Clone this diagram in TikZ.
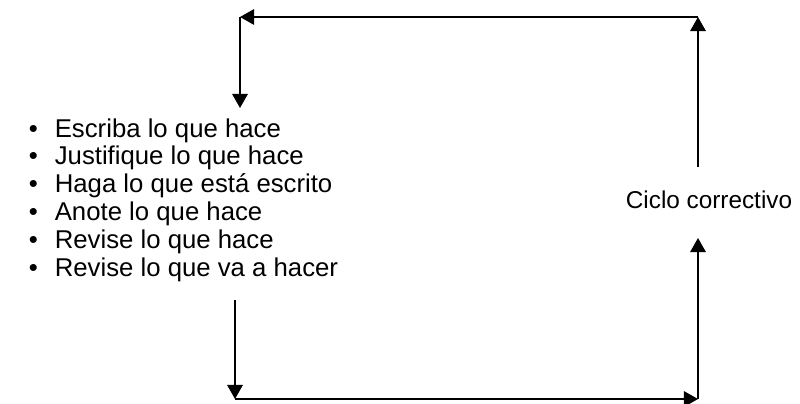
\documentclass[tikz,border=0pt]{standalone}
\usepackage{fontspec}
\setmainfont{Liberation Sans}
\usetikzlibrary{arrows.meta}

\newcommand{\punto}{\makebox[0.65cm][l]{\textbullet}}

\begin{document}
\begin{tikzpicture}[x=0.025cm,y=-0.025cm,>={Triangle[length=10pt,width=11pt]},line width=1.2pt,
    texto/.style={inner sep=0pt,font=\fontsize{17.3}{19.8}\selectfont}]
  \useasboundingbox (0,0) rectangle (800,403);
  \coordinate (TL) at (240,17);
  \coordinate (TR) at (698,17);
  \coordinate (BL) at (235,399);
  \coordinate (BR) at (698,399);
  \coordinate (Lfin) at (240,108);
  \coordinate (Lini) at (235,300);
  \coordinate (Rsup) at (698,167);
  \coordinate (Rinf) at (698,238);
  \node[texto] (ciclo) at (709,200) {Ciclo correctivo};
  \node[texto,font=\fontsize{18.3}{19.8}\selectfont,anchor=west,align=left] (lista) at (28,200) {%
    \punto Escriba lo que hace\\
    \punto Justifique lo que hace\\
    \punto Haga lo que está escrito\\
    \punto Anote lo que hace\\
    \punto Revise lo que hace\\
    \punto Revise lo que va a hacer};
  \draw[->] (Rsup) -- (TR);
  \draw[->] (TR) -- (TL);
  \draw[->] (TL) -- (Lfin);
  \draw[->] (Lini) -- (BL);
  \draw[->] (BL) -- (BR);
  \draw[->] (BR) -- (Rinf);
\end{tikzpicture}
\end{document}
